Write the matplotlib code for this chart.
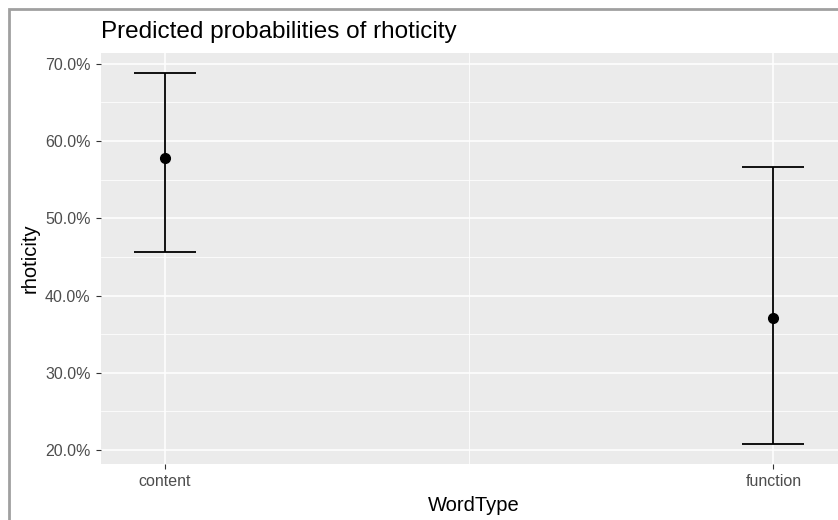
import matplotlib
matplotlib.use("Agg")
import matplotlib.pyplot as plt
from matplotlib.ticker import FuncFormatter, MultipleLocator
from matplotlib.patches import Rectangle

categories = ["content", "function"]
predicted = [57.85, 37.05]
lower = [45.7, 20.75]
upper = [68.85, 56.7]
y_ticks = [20, 30, 40, 50, 60, 70]

plt.rcParams['font.family'] = ['Liberation Sans', 'DejaVu Sans']

fig = plt.figure(figsize=(8.38, 5.2), dpi=100)
# outer screenshot border
fig.patches.append(Rectangle((9/838, -0.1), 1.2, 1 - 9/520 + 0.1, transform=fig.transFigure,
                             fill=False, edgecolor="#A0A0A0", linewidth=2.0, zorder=0))

ax = fig.add_axes([101/838, 1 - 464/520, 1 - 101/838 + 0.01, (464 - 53)/520])
ax.set_facecolor("#EBEBEB")
for s in ax.spines.values():
    s.set_visible(False)

x = list(range(1, len(categories) + 1))
yerr_lo = [p - l for p, l in zip(predicted, lower)]
yerr_hi = [u - p for p, u in zip(predicted, upper)]
ax.errorbar(x, predicted, yerr=[yerr_lo, yerr_hi], fmt="none", ecolor="black",
            elinewidth=1.3, capsize=22, capthick=1.3, zorder=3)
ax.plot(x, predicted, "o", color="black", markersize=7, zorder=4)

ax.set_xlim(0.895, 2.12)
ax.set_ylim(18.2, 71.4)
ax.set_xticks(x)
ax.set_xticklabels(categories)
ax.set_yticks(y_ticks)
ax.yaxis.set_major_formatter(FuncFormatter(lambda v, p: f"{v:.1f}%"))
ax.yaxis.set_minor_locator(MultipleLocator(5))
ax.xaxis.set_minor_locator(MultipleLocator(0.5))

ax.grid(which="major", color="white", linewidth=1.1)
ax.grid(which="minor", color="white", linewidth=0.55)
ax.set_axisbelow(True)
ax.tick_params(which="major", length=3.5, width=0.8, color="#333333",
               labelcolor="#4D4D4D", labelsize=11.5, pad=4)
ax.tick_params(which="minor", length=0)

ax.set_xlabel("WordType", fontsize=14.5, color="black", labelpad=5)
ax.set_ylabel("rhoticity", fontsize=14.5, color="black", labelpad=4)
fig.text(101/838, 1 - 32/520, "Predicted probabilities of rhoticity", fontsize=17.5,
         color="black", va="center", ha="left")

fig.savefig("out.png", dpi=100)
